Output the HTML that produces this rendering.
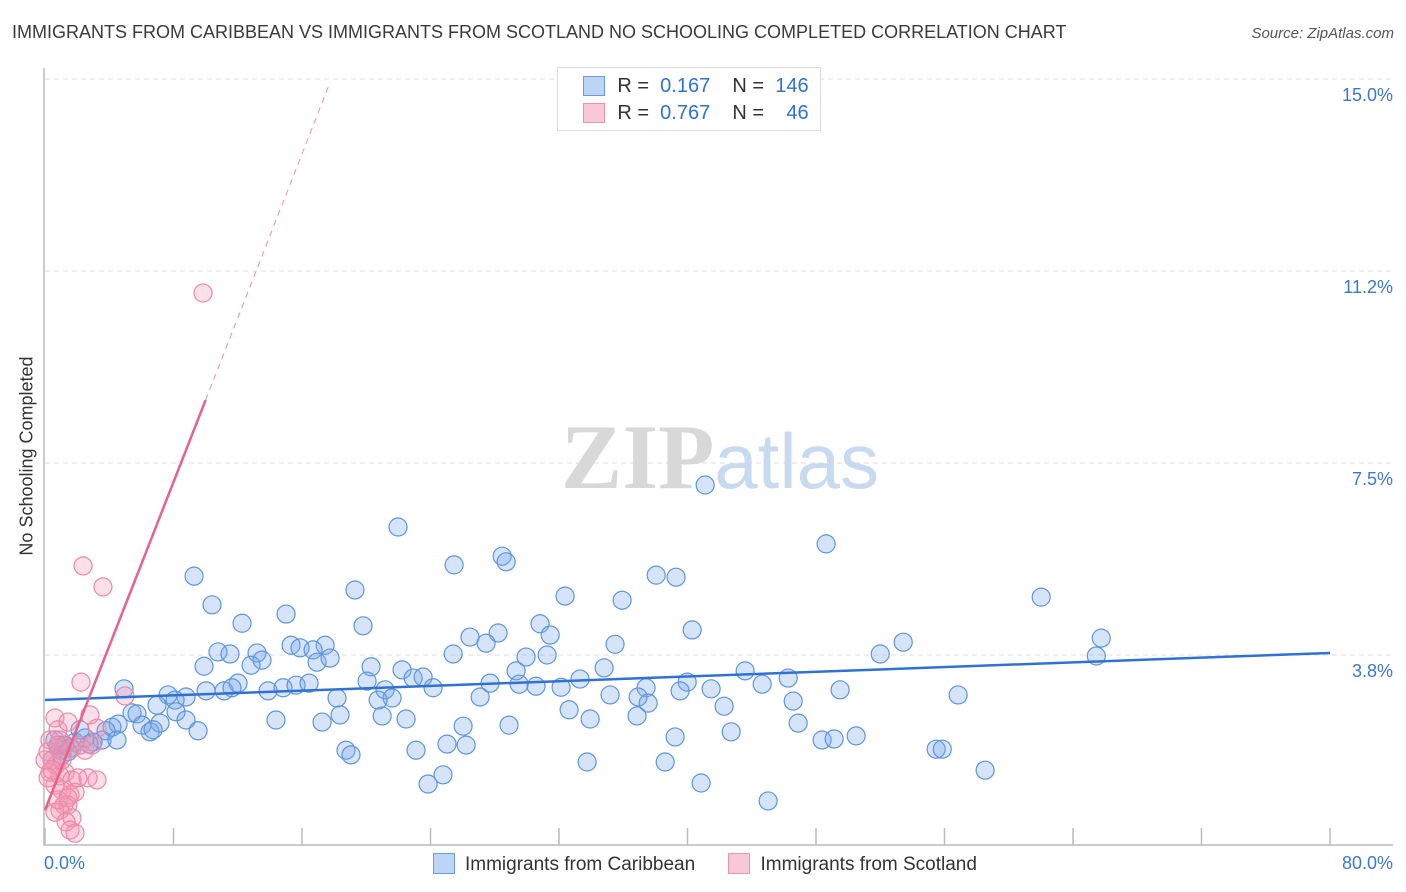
<!DOCTYPE html>
<html><head><meta charset="utf-8"><style>
body{margin:0;background:#fff;font-family:"Liberation Sans",sans-serif}
#w{position:relative;width:1406px;height:892px;overflow:hidden}
</style></head><body><div id="w">
<div style="position:absolute;left:12px;top:22px;font-size:18px;color:#3a3a3a">IMMIGRANTS FROM CARIBBEAN VS IMMIGRANTS FROM SCOTLAND NO SCHOOLING COMPLETED CORRELATION CHART</div>
<div style="position:absolute;right:12px;top:25px;font-size:15px;color:#555;font-style:italic">Source: ZipAtlas.com</div>
<svg id="s" width="1406" height="892" style="position:absolute;left:0;top:0"></svg>
</div>
<script>
const xTicks=[0,10,20,30,40,50,60,70,80];
const yTicks=[3.75,7.5,11.25,15];
const yTickLabels=["3.8%","7.5%","11.2%","15.0%"];
const blueX=[41.10,21.98,48.63,25.47,28.46,28.71,38.05,39.29,9.28,19.30,32.38,35.93,62.02,10.40,15.01,12.27,19.80,30.82,26.46,28.21,31.45,40.29,35.49,53.43,65.76,65.45,52.00,15.32,17.44,15.88,16.69,10.77,11.52,13.20,13.51,12.83,16.94,17.75,9.90,20.30,22.23,25.41,27.46,29.95,31.26,34.81,29.33,33.31,43.59,46.27,44.65,39.98,22.92,23.54,24.16,27.71,29.52,30.57,32.13,37.42,39.54,41.47,49.50,56.85,4.92,7.66,8.78,10.03,11.15,12.02,11.64,13.89,14.82,15.63,16.44,18.18,20.05,21.17,21.61,20.74,27.09,35.18,36.93,37.55,46.58,6.97,8.10,8.16,5.42,5.73,8.78,7.16,6.04,6.54,6.73,4.55,4.17,3.80,3.55,4.48,2.18,2.99,2.74,9.53,14.38,17.25,18.37,20.99,22.48,26.03,28.89,32.63,33.94,36.86,42.28,46.89,42.72,39.23,48.38,49.13,50.50,55.48,55.86,25.03,26.22,23.10,18.74,19.05,33.75,38.61,24.78,23.85,40.85,45.02,58.53,0.62,0.93,1.25,1.56,0.44,1.87,1.06,1.43,2.49,0.81];
const blueY=[7.07,6.25,5.92,5.51,5.68,5.57,5.31,5.27,5.29,5.02,4.90,4.82,4.88,4.73,4.55,4.37,4.32,4.36,4.10,4.18,4.14,4.24,3.96,4.00,4.08,3.73,3.77,3.94,3.94,3.89,3.85,3.81,3.77,3.79,3.65,3.55,3.61,3.69,3.53,3.52,3.46,3.77,3.98,3.71,3.75,3.50,3.44,3.28,3.44,3.30,3.18,3.22,3.30,3.32,3.11,3.20,3.18,3.14,3.12,3.11,3.05,3.09,3.07,2.97,3.09,2.97,2.93,3.05,3.05,3.20,3.11,3.05,3.11,3.16,3.20,2.91,3.24,3.07,2.91,2.87,2.93,2.97,2.93,2.81,2.85,2.77,2.87,2.64,2.62,2.60,2.48,2.42,2.38,2.25,2.29,2.40,2.34,2.27,2.09,2.09,2.29,2.05,2.01,2.27,2.48,2.44,2.58,2.56,2.50,2.36,2.38,2.68,2.50,2.56,2.75,2.42,2.25,2.15,2.09,2.11,2.17,1.91,1.91,2.01,1.99,1.89,1.89,1.80,1.66,1.66,1.41,1.23,1.25,0.90,1.50,2.09,1.89,1.99,1.93,1.70,2.05,1.80,1.86,2.13,1.99];
const pinkX=[9.84,2.37,3.61,2.24,4.98,0.62,0.81,1.43,2.80,3.24,0.93,1.18,1.68,2.18,0.19,0.44,0.68,0.31,0.93,1.25,1.68,2.68,3.24,0.62,1.06,1.56,1.87,1.43,0.93,1.18,0.62,1.68,1.31,1.56,1.87,0.31,0.81,0.44,0.19,2.49,2.93,2.05,1.06,0.81,1.43,0];
const pinkY=[10.82,5.49,5.08,3.22,2.95,2.52,2.29,2.44,2.58,2.32,2.09,1.97,1.93,1.99,1.86,1.70,1.60,1.46,1.39,1.45,1.31,1.35,1.31,1.21,1.11,1.02,1.07,0.82,0.72,0.82,0.68,0.57,0.49,0.33,0.27,2.09,1.93,1.50,1.35,1.89,1.99,1.35,1.70,0.92,0.96,1.70];
const blueTrend=[2.87,3.79]; // value at x=0 and x=80
const pinkTrend=[0.72,8.73]; // value at x=0 and x=10
const X=v=>45+v/80*1285, Y=v=>847-v*192/3.75;
const s=document.getElementById('s'),NS='http://www.w3.org/2000/svg';
function mk(t,a,p){const e=document.createElementNS(NS,t);for(const k in a)e.setAttribute(k,a[k]);(p||s).appendChild(e);return e;}
yTicks.forEach((v,i)=>{
 const g=mk('line',{x1:45,x2:1393,y1:Y(v),y2:Y(v),stroke:'#ddd','stroke-dasharray':'5,4'});
 
 
 const t=mk('text',{x:1393,y:Y(v)+22,'text-anchor':'end','font-size':18,fill:'#3a78d0'});
 t.textContent=yTickLabels[i];
 
 
});
const ax=mk('path',{d:'M44,68V845H1393',fill:'none',stroke:'#bbb','stroke-width':1.5});


for(let v=0;v<=80;v+=8){const tk=mk('line',{x1:X(v),x2:X(v),y1:828,y2:845,stroke:'#bbb','stroke-width':1.5});

}
const wm=mk('text',{x:720,y:488,'text-anchor':'middle','font-size':92,'font-family':'Liberation Serif'});
wm.innerHTML='<tspan fill="#d8d8d8" font-weight="bold">ZIP</tspan><tspan fill="#c8daf0" font-family="Liberation Sans" font-size="78">atlas</tspan>';


blueX.forEach((x,i)=>{const c=mk('circle',{cx:X(x),cy:Y(blueY[i]),r:9,fill:'rgba(120,165,235,0.3)',stroke:'#5d95dc','stroke-width':1.2});

});
pinkX.forEach((x,i)=>{const c=mk('circle',{cx:X(x),cy:Y(pinkY[i]),r:9,fill:'rgba(245,150,180,0.3)',stroke:'#ea8aa8','stroke-width':1.2});

});
const bl=mk('line',{x1:X(0),y1:Y(blueTrend[0]),x2:X(80),y2:Y(blueTrend[1]),stroke:'#2f72d4','stroke-width':2.5});


const ps=(pinkTrend[1]-pinkTrend[0])/10;
const pl=mk('line',{x1:X(0),y1:Y(pinkTrend[0]),x2:X(10),y2:Y(pinkTrend[1]),stroke:'#e8608c','stroke-width':2.5});


const pd=mk('line',{x1:X(10),y1:Y(pinkTrend[1]),x2:X(17.75),y2:Y(pinkTrend[0]+ps*17.75),stroke:'#e8a0b8','stroke-width':1.2,'stroke-dasharray':'6,5'});


</script>
<div style="position:absolute;left:27px;top:456px;transform:translate(-50%,-50%) rotate(-90deg);font-size:18px;color:#333;white-space:nowrap">No Schooling Completed</div>
<div style="position:absolute;left:44px;top:853px;font-size:18px;color:#3a78d0">0.0%</div>
<div style="position:absolute;right:13px;top:853px;font-size:18px;color:#3a78d0">80.0%</div>
<div style="position:absolute;left:557px;top:67px;width:262px;height:62px;border:1px solid #ddd;background:#fff;font-size:20px;color:#333">
 <div style="position:absolute;left:26px;top:7px;white-space:pre"><span style="position:absolute;left:-1px;top:1px;width:20px;height:18px;background:#bcd4f5;border:1px solid #6b9be0"></span>      R =  <span style="color:#2f72d4">0.167</span>    N =  <span style="color:#2f72d4">146</span></div>
 <div style="position:absolute;left:26px;top:34px;white-space:pre"><span style="position:absolute;left:-1px;top:1px;width:20px;height:18px;background:#f9c8d6;border:1px solid #ee92ae"></span>      R =  <span style="color:#2f72d4">0.767</span>    N =    <span style="color:#2f72d4">46</span></div>
</div>
<div style="position:absolute;left:433px;top:853px;font-size:19px;color:#333;white-space:nowrap">
 <span><span style="display:inline-block;width:20px;height:19px;background:#bcd4f5;border:1px solid #6b9be0;vertical-align:-4px;margin-right:10px"></span>Immigrants from Caribbean</span>
 <span style="margin-left:28px"><span style="display:inline-block;width:20px;height:19px;background:#f9c8d6;border:1px solid #ee92ae;vertical-align:-4px;margin-right:10px"></span>Immigrants from Scotland</span>
</div>
</body></html>
